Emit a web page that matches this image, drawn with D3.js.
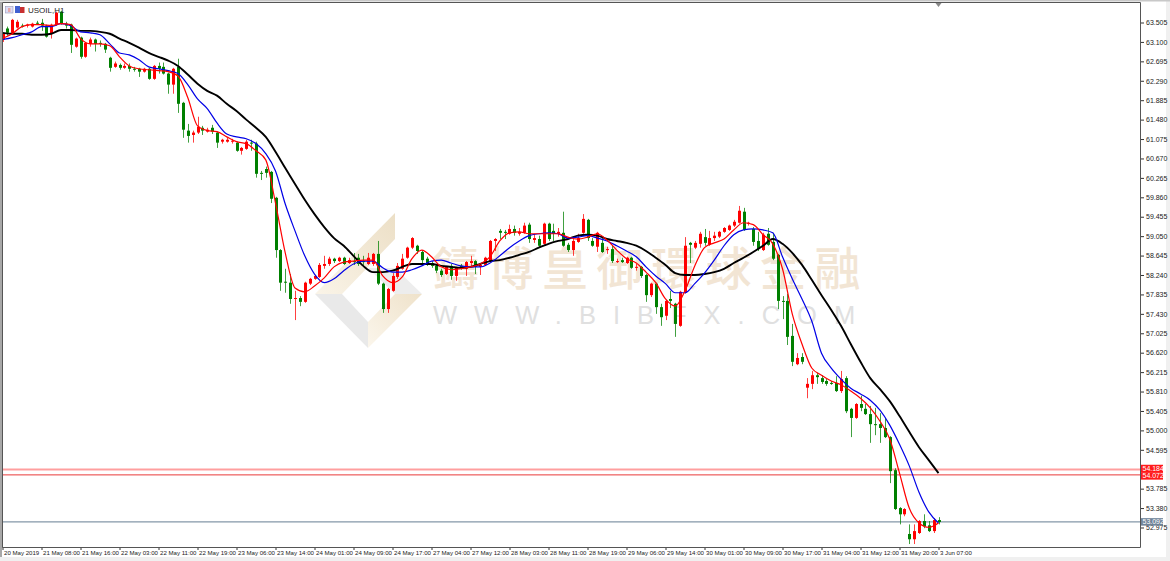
<!DOCTYPE html>
<html><head><meta charset="utf-8">
<script src="https://cdn.jsdelivr.net/npm/d3@7"></script>
<style>
html,body{margin:0;padding:0;background:#f0f0f0;overflow:hidden}
svg{display:block}
text{font-family:"Liberation Sans",Arial,sans-serif}
</style></head><body><div id="c"></div>
<script>
const symbol = "USOIL,H1";
const priceTicks = [63.505,63.100,62.695,62.290,61.885,61.480,61.075,60.670,60.265,59.860,59.455,59.050,58.645,58.240,57.835,57.430,57.025,56.620,56.215,55.810,55.405,55.000,54.595,53.785,53.380,52.975];
const timeTicks = ["20 May 2019","21 May 08:00","21 May 16:00","22 May 03:00","22 May 11:00","22 May 19:00","23 May 06:00","23 May 14:00","24 May 01:00","24 May 09:00","24 May 17:00","27 May 04:00","27 May 12:00","28 May 03:00","28 May 11:00","28 May 19:00","29 May 06:00","29 May 14:00","30 May 01:00","30 May 09:00","30 May 17:00","31 May 04:00","31 May 12:00","31 May 20:00","3 Jun 07:00"];
const barsPerTick = 8, maStep = 2;
const levelA = 54.184, levelB = 54.072, lastPrice = 53.092;
const brandCn = "鑄博皇御環球金融", brandUrl = "WWW.BIBFX.COM";

const highs = [63.29,63.42,63.58,63.56,63.48,63.48,63.50,63.54,63.58,63.46,
63.48,63.73,63.75,63.52,63.48,63.19,63.21,63.10,63.19,63.17,
63.13,63.08,62.79,62.69,62.65,62.65,62.65,62.58,62.56,62.56,
62.56,62.62,62.67,62.67,62.46,62.56,62.75,61.85,61.39,61.25,
61.54,61.35,61.31,61.37,61.23,61.08,61.10,61.08,61.02,60.91,
61.06,61.06,61.02,60.41,60.50,60.41,59.87,58.78,58.37,58.26,
57.91,57.80,58.10,58.18,58.24,58.49,58.64,58.62,58.60,58.62,
58.62,58.60,58.70,58.68,58.64,58.70,58.70,58.95,58.08,57.97,
58.28,58.49,58.68,58.83,59.03,58.87,58.76,58.62,58.53,58.47,
58.37,58.43,58.47,58.41,58.47,58.53,58.64,58.55,58.47,58.62,
58.97,59.01,59.20,59.18,59.29,59.27,59.22,59.33,59.33,59.10,
59.06,59.33,59.33,59.31,59.22,59.56,58.91,59.03,59.10,59.51,
59.41,59.01,59.14,59.01,58.83,58.85,58.58,58.60,58.62,58.62,
58.47,58.43,58.26,58.08,58.08,57.64,57.72,57.91,57.66,57.91,
59.03,58.93,58.95,59.14,59.20,59.16,59.14,59.16,59.24,59.29,
59.39,59.68,59.64,59.35,59.24,59.14,59.12,59.22,59.12,58.68,
57.80,57.85,57.22,56.61,56.61,56.09,56.24,56.20,56.15,56.07,
56.03,56.13,56.24,56.13,55.47,55.57,55.72,55.55,55.51,55.47,
55.36,55.26,54.88,54.21,53.40,53.38,53.04,53.04,53.13,53.25,
53.11,53.17,53.19];
const lows = [63.10,63.23,63.27,63.38,63.40,63.40,63.40,63.46,63.33,63.19,
63.17,63.44,63.46,63.38,62.87,62.98,62.75,62.77,63.00,62.90,
63.00,62.87,62.48,62.56,62.52,62.54,62.48,62.48,62.37,62.46,
62.31,62.31,62.44,62.42,62.02,62.02,61.62,61.10,61.00,61.00,
61.18,61.16,61.21,61.18,60.89,60.98,61.00,60.98,60.81,60.75,
60.85,60.83,60.27,60.22,60.27,59.74,58.60,57.91,57.87,57.64,
57.30,57.59,57.66,58.03,58.14,58.18,58.37,58.43,58.49,58.51,
58.45,58.47,58.45,58.43,58.45,58.45,58.43,58.03,57.45,57.45,
57.89,58.16,58.35,58.58,58.78,58.68,58.49,58.43,58.39,58.28,
58.20,58.24,58.14,58.12,58.35,58.22,58.43,58.26,58.24,58.43,
58.51,58.74,58.99,58.99,59.08,59.06,59.06,59.10,58.91,58.91,
58.81,58.87,58.95,58.95,59.04,58.83,58.72,58.64,58.91,59.10,
58.95,58.83,58.72,58.70,58.68,58.49,58.49,58.49,58.47,58.37,
58.33,58.18,57.68,57.78,57.43,57.18,57.30,57.55,56.95,57.16,
57.85,58.49,58.78,58.81,58.85,58.85,58.95,59.01,59.12,59.16,
59.24,59.31,59.16,59.27,58.85,58.74,58.74,58.85,58.55,57.53,
57.32,56.78,56.34,56.36,56.38,55.67,55.86,55.97,55.97,55.93,
55.95,55.80,55.78,55.36,54.86,55.24,55.40,55.32,54.74,54.90,
54.74,54.84,53.90,53.34,53.04,53.21,52.63,52.63,52.84,52.96,
52.88,52.86,53.04];
const opens = [63.15,63.38,63.29,63.40,63.44,63.44,63.42,63.50,63.50,63.44,
63.27,63.46,63.73,63.48,63.46,63.00,63.19,62.79,63.06,63.15,
63.08,63.06,62.77,62.58,62.62,62.56,62.60,62.54,62.54,62.48,
62.54,62.33,62.60,62.58,62.44,62.21,62.58,61.83,61.25,61.16,
61.21,61.31,61.23,61.31,61.21,61.02,61.02,61.02,61.00,60.83,
60.87,61.00,60.98,60.37,60.45,60.39,59.85,58.76,58.10,58.08,
57.75,57.76,57.68,58.06,58.16,58.20,58.43,58.47,58.58,58.53,
58.60,58.49,58.53,58.60,58.53,58.47,58.47,58.68,58.06,57.53,
57.91,58.20,58.37,58.60,58.81,58.85,58.72,58.58,58.49,58.43,
58.33,58.26,58.43,58.22,58.43,58.37,58.49,58.53,58.41,58.45,
58.53,58.95,59.16,59.14,59.10,59.20,59.10,59.12,59.29,58.97,
58.99,58.89,59.31,59.16,59.10,59.12,58.87,58.76,58.93,59.12,
59.39,58.95,58.83,58.91,58.76,58.78,58.51,58.55,58.49,58.60,
58.39,58.41,58.24,57.82,58.06,57.57,57.39,57.74,57.64,57.18,
57.87,58.91,58.81,58.89,59.03,58.87,59.01,59.04,59.14,59.18,
59.27,59.33,59.56,59.31,59.20,58.95,58.76,59.10,58.93,58.66,
57.70,57.70,56.97,56.38,56.53,55.89,55.97,56.15,56.09,56.03,
55.99,55.99,55.82,56.09,55.45,55.26,55.55,55.45,55.34,55.13,
55.13,55.05,54.86,54.17,53.38,53.25,52.84,52.73,52.86,53.11,
53.02,52.90,53.13];
const closes = [63.27,63.29,63.56,63.52,63.43,63.46,63.48,63.48,63.44,63.21,
63.46,63.71,63.48,63.44,63.04,63.17,62.79,63.08,63.15,63.06,
63.06,62.94,62.56,62.65,62.56,62.60,62.54,62.53,62.48,62.54,
62.33,62.60,62.54,62.44,62.21,62.54,61.81,61.27,61.14,61.21,
61.33,61.25,61.27,61.23,61.00,61.06,61.06,61.04,60.83,60.89,
61.02,60.98,60.35,60.35,60.37,59.83,58.76,58.08,58.08,57.74,
57.76,57.68,58.08,58.16,58.22,58.45,58.47,58.58,58.53,58.60,
58.47,58.55,58.51,58.47,58.52,58.60,58.68,58.06,57.53,57.95,
58.22,58.43,58.58,58.81,59.01,58.74,58.55,58.47,58.43,58.33,
58.24,58.41,58.22,58.39,58.39,58.51,58.53,58.41,58.45,58.60,
58.95,58.99,59.12,59.12,59.20,59.12,59.14,59.27,58.99,59.01,
58.85,59.31,58.99,59.10,59.14,58.85,58.76,58.95,59.01,59.41,
59.01,58.85,59.12,58.72,58.78,58.53,58.53,58.51,58.60,58.39,
58.41,58.22,57.82,58.06,57.57,57.36,57.70,57.70,57.22,57.89,
58.85,58.87,58.91,59.10,58.91,59.01,59.06,59.14,59.22,59.27,
59.35,59.58,59.18,59.33,58.93,58.78,59.08,58.87,58.58,57.70,
57.69,56.95,56.43,56.51,56.43,55.97,56.15,56.11,56.01,55.97,
55.98,55.82,56.07,55.40,55.26,55.55,55.47,55.34,55.13,55.12,
55.05,54.86,54.15,53.36,53.25,53.36,52.73,52.90,53.11,53.00,
52.90,53.13,53.09];

const maFast = [63.17,63.27,63.42,63.46,63.46,63.44,63.48,63.46,63.17,63.06,
63.06,63.02,62.79,62.60,62.54,62.52,62.50,62.48,62.39,61.94,
61.35,61.25,61.23,61.12,61.02,60.98,60.83,60.64,59.74,58.70,
57.97,57.89,58.01,58.18,58.41,58.51,58.53,58.55,58.55,58.22,
58.08,58.20,58.58,58.76,58.62,58.41,58.35,58.37,58.41,58.47,
58.62,58.95,59.12,59.14,59.10,59.10,59.10,59.10,59.03,58.99,
59.03,59.10,58.97,58.76,58.58,58.49,58.30,58.08,57.74,57.59,
57.91,58.43,58.81,58.91,58.99,59.18,59.33,59.29,59.08,58.89,
58.37,57.43,56.80,56.30,56.15,56.03,55.95,55.82,55.67,55.47,
55.19,54.82,54.11,53.38,53.07,52.98,53.07];
const maMid = [63.15,63.19,63.25,63.31,63.42,63.42,63.48,63.44,63.31,63.29,
63.25,63.06,62.87,62.83,62.73,62.58,62.54,62.50,62.44,62.21,
61.91,61.71,61.41,61.18,61.12,61.08,60.98,60.77,60.41,59.72,
59.16,58.64,58.26,58.08,58.16,58.33,58.47,58.53,58.53,58.39,
58.30,58.30,58.35,58.43,58.53,58.55,58.49,58.43,58.41,58.41,
58.49,58.64,58.81,58.95,59.06,59.10,59.12,59.10,59.01,59.03,
59.06,59.01,58.95,58.85,58.74,58.62,58.41,58.22,58.06,57.87,
57.87,58.06,58.28,58.55,58.85,59.08,59.18,59.20,59.18,59.12,
58.62,58.16,57.74,57.28,56.61,56.30,56.07,55.88,55.76,55.63,
55.42,55.11,54.71,54.26,53.71,53.30,53.07];
const maSlow = [63.29,63.27,63.27,63.25,63.25,63.27,63.35,63.35,63.33,63.33,
63.31,63.27,63.17,63.08,62.98,62.87,62.79,62.71,62.60,62.42,
62.23,62.08,61.98,61.81,61.66,61.48,61.31,61.12,60.81,60.47,
60.14,59.81,59.51,59.24,59.01,58.85,58.64,58.43,58.30,58.30,
58.33,58.41,58.47,58.47,58.47,58.43,58.41,58.39,58.41,58.47,
58.53,58.55,58.60,58.66,58.72,58.81,58.89,58.95,58.99,59.06,
59.08,59.06,58.99,58.95,58.91,58.85,58.74,58.60,58.45,58.28,
58.24,58.24,58.26,58.30,58.37,58.49,58.60,58.72,58.85,58.99,
58.89,58.70,58.45,58.14,57.82,57.51,57.18,56.80,56.43,56.09,
55.86,55.61,55.30,54.97,54.65,54.38,54.11];

const W = 1170, H = 561;
const plot = {left:2, top:3, right:1140, bottom:547};
const UP = "#ff0000", DOWN = "#008000";

const svg = d3.select("#c").append("svg").attr("width",W).attr("height",H);
const defs = svg.append("defs");
function grad(id,c0,c1,x1,y1,x2,y2){
  const g = defs.append("linearGradient").attr("id",id).attr("x1",x1).attr("y1",y1).attr("x2",x2).attr("y2",y2);
  g.append("stop").attr("offset",0).attr("stop-color",c0);
  g.append("stop").attr("offset",1).attr("stop-color",c1);
}
grad("tanA","#ecdfc6","#faf4e8",1,0,0,1);
grad("tanB","#fbf6ec","#efe2ca",0,1,1,0);
defs.append("clipPath").attr("id","plotClip").append("rect")
  .attr("x",plot.left).attr("y",plot.top).attr("width",plot.right-plot.left).attr("height",plot.bottom-plot.top);

svg.append("rect").attr("x",0).attr("y",0).attr("width",1166).attr("height",557).attr("fill","#ffffff");
svg.append("rect").attr("x",0).attr("y",0).attr("width",W).attr("height",1.5).attr("fill","#c8c8c8");

const x = d3.scaleLinear().domain([0,highs.length-1]).range([2.5,938.5]);
const pxPerPrice = 19.42/0.405;
const y = d3.scaleLinear()
  .domain([63.505+19/pxPerPrice, 52.975-20/pxPerPrice])
  .range([plot.top+0.5, plot.bottom+0.5]);

// watermark
const wm = svg.append("g");
const logo = [
  {pts:[[395,213],[395,239],[342,294],[315,294]],fill:"url(#tanA)"},
  {pts:[[315,294],[342,294],[368,322],[368,348]],fill:"#e9e9e9"},
  {pts:[[368,268],[395,268],[422,294],[395,294]],fill:"#ededed"},
  {pts:[[368,322],[395,294],[422,294],[368,348]],fill:"url(#tanB)"}
];
wm.selectAll("polygon").data(logo).join("polygon")
  .attr("points",d=>d.pts.map(p=>p.join(",")).join(" ")).attr("fill",d=>d.fill);
wm.append("text").attr("x",433).attr("y",285).text(brandCn)
  .style("font-family",'"Noto Sans CJK TC"').style("font-size","46px").style("font-weight","500").style("letter-spacing","8.5px")
  .attr("fill","#f2e5d4");
wm.append("text").attr("x",433).attr("y",324).text(brandUrl)
  .style("font-size","25.5px").style("letter-spacing","17px").attr("fill","#e0e0e0");

// axes
const yAxis = d3.axisRight(y).tickValues(priceTicks).tickFormat(d3.format(".3f")).tickSize(4).tickSizeOuter(0);
const gy = svg.append("g").attr("transform",`translate(${plot.right},0)`).call(yAxis);
gy.select(".domain").remove();
gy.selectAll("line").attr("stroke","#333");
gy.selectAll("text").attr("x",6).attr("fill","#222").style("font-size","7px");

const timeIdx = timeTicks.map((_,i)=>i*barsPerTick);
const xAxis = d3.axisBottom(x).tickValues(timeIdx).tickFormat((d,i)=>timeTicks[i]).tickSize(3).tickSizeOuter(0);
const gx = svg.append("g").attr("transform",`translate(0,${plot.bottom})`).call(xAxis);
gx.select(".domain").remove();
gx.selectAll("line").attr("stroke","#333");
gx.selectAll("text").attr("x",1).attr("y",3.5).attr("text-anchor","start").attr("fill","#222").style("font-size","6.1px");

// level lines
const levels = [
  {v:levelA,c:"#ff9f9f",w:2},
  {v:levelB,c:"#e83a3a",w:1},
  {v:lastPrice,c:"#8497a8",w:1.4}
];
svg.append("g").selectAll("line").data(levels).join("line")
  .attr("x1",plot.left).attr("x2",plot.right)
  .attr("y1",d=>y(d.v)).attr("y2",d=>y(d.v))
  .attr("stroke",d=>d.c).attr("stroke-width",d=>d.w);

// candles
const idx = d3.range(highs.length);
const up = i => closes[i] >= opens[i];
const gc = svg.append("g").attr("clip-path","url(#plotClip)");
gc.selectAll("line.w").data(idx).join("line").attr("class","w")
  .attr("x1",i=>Math.round(x(i))+0.5).attr("x2",i=>Math.round(x(i))+0.5)
  .attr("y1",i=>y(highs[i])).attr("y2",i=>y(lows[i]))
  .attr("stroke",i=>up(i)?UP:DOWN).attr("stroke-width",1).attr("stroke-opacity",0.75);
gc.selectAll("rect.b").data(idx).join("rect").attr("class","b")
  .attr("x",i=>Math.round(x(i))-1).attr("width",3)
  .attr("y",i=>y(Math.max(opens[i],closes[i])))
  .attr("height",i=>Math.max(1,Math.abs(y(opens[i])-y(closes[i]))))
  .attr("fill",i=>up(i)?UP:DOWN);

// moving averages
const line = d3.line().x((d,i)=>x(i*maStep)).y(d=>y(d)).curve(d3.curveMonotoneX);
[[maSlow,"#000000",1.9],[maMid,"#0000e6",1.2],[maFast,"#ff0000",1.2]].forEach(([s,c,w])=>{
  gc.append("path").attr("d",line(s)).attr("fill","none").attr("stroke",c).attr("stroke-width",w);
});

// frame
svg.append("path").attr("d",`M${plot.left+.5},${plot.bottom+.5}V${plot.top-.5}H${plot.right+.5}V${plot.bottom+.5}H${plot.left+.5}Z`)
  .attr("fill","none").attr("stroke","#555").attr("stroke-width",1);
svg.append("rect").attr("x",0).attr("y",2).attr("width",2).attr("height",555).attr("fill","#a8a8a8");
svg.append("polygon").attr("points",()=>{const c=x(highs.length-1);return `${c-3},3 ${c+3},3 ${c},7`;}).attr("fill","#888");

// price tags
const tags = [
  {v:levelA,t:d3.format(".3f")(levelA),bg:"#ff1a1a",dy:-1},
  {v:levelB,t:d3.format(".3f")(levelB),bg:"#ff1a1a",dy:1},
  {v:lastPrice,t:d3.format(".3f")(lastPrice),bg:"#708499",dy:0}
];
const gt = svg.append("g");
gt.selectAll("rect").data(tags).join("rect")
  .attr("x",plot.right+1).attr("width",22).attr("height",7.5)
  .attr("y",d=>y(d.v)-3.75+d.dy).attr("fill",d=>d.bg);
gt.selectAll("text").data(tags).join("text")
  .attr("x",plot.right+2.5).attr("y",d=>y(d.v)+2.5+d.dy).text(d=>d.t)
  .attr("fill","#fff").style("font-size","7px");

// header
const gh = svg.append("g");
gh.append("rect").attr("x",5.5).attr("y",6.5).attr("width",7.5).attr("height",6.5).attr("fill","#dcdcf4").attr("stroke","#9a9ab8").attr("stroke-width",.6);
gh.append("rect").attr("x",8).attr("y",8).attr("width",2.5).attr("height",4).attr("fill","#e8a8a8");
gh.append("rect").attr("x",15).attr("y",6).attr("width",5).attr("height",7).attr("fill","#4060d0");
gh.append("rect").attr("x",20).attr("y",7).attr("width",4.5).attr("height",6).attr("fill","#c83030");
gh.append("text").attr("x",28).attr("y",12.5).text(symbol).attr("fill","#222").style("font-size","8px");
</script></body></html>
